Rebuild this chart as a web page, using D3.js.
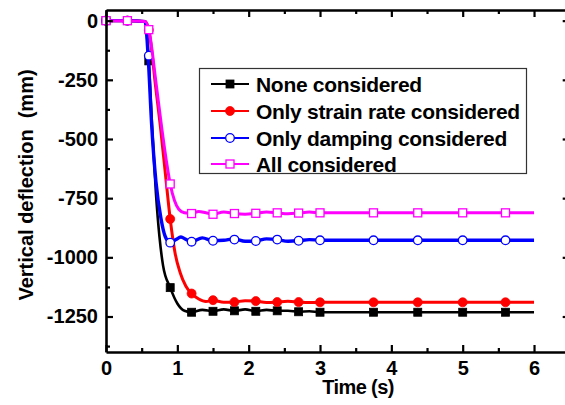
<!DOCTYPE html>
<html>
<head>
<meta charset="utf-8">
<script src="https://cdn.jsdelivr.net/npm/d3@7"></script>
<style>
  html, body { margin: 0; padding: 0; background: #fff; }
  svg { display: block; }
  text { font-family: "Liberation Sans", Arial, sans-serif; font-weight: bold; fill: #000; }
</style>
</head>
<body>
<script>
// ---------- data ----------
const seriesNames = ["None considered", "Only strain rate considered", "Only damping considered", "All considered"];
const seriesColors = ["#000000", "#ff0000", "#0000ff", "#ff00ff"];

const markerTimes = [0, 0.3, 0.6, 0.9, 1.2, 1.5, 1.8, 2.1, 2.4, 2.7, 3.0, 3.75, 4.37, 5.0, 5.6];
const noneMarkers    = [0, 0, -170, -1128, -1232, -1228, -1226, -1228, -1226, -1230, -1232, -1232, -1232, -1232, -1232];
const strainMarkers  = [0, 0, -40, -838, -1153, -1181, -1189, -1185, -1189, -1189, -1190, -1190, -1190, -1190, -1190];
const dampingMarkers = [0, 0, -148, -938, -934, -930, -925, -931, -925, -930, -928, -928, -928, -928, -928];
const allMarkers     = [0, 0, -38, -690, -815, -818, -815, -814, -812, -813, -812, -812, -812, -812, -812];

const noneLine = [[0,0],[0.3,0],[0.54,-4],[0.6,-170],[0.65,-470],[0.7,-730],[0.75,-915],[0.8,-1035],[0.9,-1128],[1.0,-1195],[1.1,-1226],[1.2,-1232],[1.35,-1222],[1.5,-1228],[1.65,-1220],[1.8,-1226],[1.95,-1220],[2.1,-1228],[2.25,-1222],[2.4,-1226],[2.55,-1226],[2.7,-1230],[2.85,-1228],[3.0,-1232],[3.75,-1232],[4.37,-1232],[5.0,-1232],[5.6,-1232],[6.0,-1232]];
const strainLine = [[0,0],[0.3,0],[0.55,-4],[0.6,-40],[0.7,-290],[0.76,-440],[0.83,-640],[0.9,-838],[0.97,-985],[1.04,-1065],[1.12,-1122],[1.2,-1153],[1.3,-1176],[1.4,-1187],[1.5,-1181],[1.65,-1190],[1.8,-1189],[1.95,-1183],[2.1,-1185],[2.25,-1191],[2.4,-1189],[2.55,-1186],[2.7,-1189],[2.85,-1191],[3.0,-1190],[3.75,-1190],[4.37,-1190],[5.0,-1190],[5.6,-1190],[6.0,-1190]];
const dampingLine = [[0,0],[0.3,0],[0.55,-4],[0.59,-148],[0.64,-440],[0.7,-680],[0.77,-835],[0.83,-912],[0.9,-938],[0.98,-925],[1.05,-914],[1.12,-924],[1.2,-934],[1.35,-918],[1.5,-930],[1.65,-928],[1.8,-922],[1.95,-932],[2.1,-931],[2.25,-922],[2.4,-925],[2.55,-932],[2.7,-930],[2.85,-925],[3.0,-928],[3.75,-928],[4.37,-928],[5.0,-928],[5.6,-928],[6.0,-928]];
const allLine = [[0,0],[0.3,0],[0.55,-4],[0.6,-38],[0.7,-260],[0.78,-450],[0.85,-600],[0.9,-690],[0.96,-760],[1.02,-797],[1.1,-812],[1.2,-815],[1.3,-806],[1.4,-812],[1.5,-818],[1.65,-808],[1.8,-815],[1.95,-818],[2.1,-814],[2.25,-808],[2.4,-812],[2.55,-816],[2.7,-813],[2.85,-809],[3.0,-812],[3.75,-812],[4.37,-812],[5.0,-812],[5.6,-812],[6.0,-812]];

const xTicks = [0, 1, 2, 3, 4, 5, 6];
const xMinorTicks = [0.5, 1.5, 2.5, 3.5, 4.5, 5.5, 6.5];
const yTicks = [0, -250, -500, -750, -1000, -1250];
const yMinorTicks = [-125, -375, -625, -875, -1125, -1375];

const xLabel = "Time (s)";
const yLabel = "Vertical deflection  (mm)";

// ---------- chart ----------
const W = 565, H = 405;
const pLeft = 106, pRight = 569.7, pTop = 10, pBottom = 352;

const svg = d3.select("body").append("svg").attr("width", W).attr("height", H);

const x = d3.scaleLinear().domain([0, 6.5]).range([pLeft, pRight]);
const y = d3.scaleLinear().domain([-1400, 45]).range([pBottom, pTop]);

const series = [
  { name: seriesNames[0], color: seriesColors[0], line: noneLine, marks: noneMarkers, shape: "square", fill: true, lw: 2.6 },
  { name: seriesNames[1], color: seriesColors[1], line: strainLine, marks: strainMarkers, shape: "circle", fill: true, lw: 3 },
  { name: seriesNames[2], color: seriesColors[2], line: dampingLine, marks: dampingMarkers, shape: "circle", fill: false, lw: 3.4 },
  { name: seriesNames[3], color: seriesColors[3], line: allLine, marks: allMarkers, shape: "square", fill: false, lw: 3 }
];

const lineGen = d3.line().x(d => x(d[0])).y(d => y(d[1])).curve(d3.curveMonotoneX);

function drawMarker(g, cx, cy, s) {
  if (s.shape === "square") {
    g.append("rect")
      .attr("x", cx - 4).attr("y", cy - 4).attr("width", 8).attr("height", 8)
      .attr("fill", s.fill ? s.color : "#fff")
      .attr("stroke", s.color).attr("stroke-width", s.fill ? 0.8 : 1.3);
  } else {
    g.append("circle")
      .attr("cx", cx).attr("cy", cy).attr("r", s.fill ? 4.5 : 4.3)
      .attr("fill", s.fill ? s.color : "#fff")
      .attr("stroke", s.color).attr("stroke-width", s.fill ? 0.8 : 1.3);
  }
}

const plot = svg.append("g");
series.forEach(s => {
  const g = plot.append("g");
  g.append("path").datum(s.line)
    .attr("d", lineGen)
    .attr("fill", "none")
    .attr("stroke", s.color)
    .attr("stroke-width", s.lw)
    .attr("stroke-linejoin", "round");
  markerTimes.forEach((t, i) => drawMarker(g, x(t), y(s.marks[i]), s));
});

// ---------- axes ----------
function styleAxis(g) {
  g.select(".domain").attr("stroke", "#000").attr("stroke-width", 2.6);
  g.selectAll(".tick line").attr("stroke", "#000").attr("stroke-width", 2.2);
  g.selectAll(".tick text").style("font-size", "20px").style("font-family", "'Liberation Sans', Arial, sans-serif").style("font-weight", "bold").attr("fill", "#000");
}

// bottom
const gB = svg.append("g").attr("transform", `translate(0,${pBottom})`)
  .call(d3.axisBottom(x).tickValues(xTicks).tickFormat(d => String(d)).tickSize(-7).tickSizeOuter(0).tickPadding(9));
styleAxis(gB);
const gBm = svg.append("g").attr("transform", `translate(0,${pBottom})`)
  .call(d3.axisBottom(x).tickValues(xMinorTicks).tickFormat("").tickSize(-4).tickSizeOuter(0));
styleAxis(gBm); gBm.select(".domain").remove();

// top
const gT = svg.append("g").attr("transform", `translate(0,${pTop})`)
  .call(d3.axisTop(x).tickValues(xTicks).tickFormat("").tickSize(-7).tickSizeOuter(0));
styleAxis(gT);
const gTm = svg.append("g").attr("transform", `translate(0,${pTop})`)
  .call(d3.axisTop(x).tickValues(xMinorTicks).tickFormat("").tickSize(-4).tickSizeOuter(0));
styleAxis(gTm); gTm.select(".domain").remove();

// left
const gL = svg.append("g").attr("transform", `translate(${pLeft},0)`)
  .call(d3.axisLeft(y).tickValues(yTicks).tickFormat(d => String(d)).tickSize(-7).tickSizeOuter(0).tickPadding(8));
styleAxis(gL);
const gLm = svg.append("g").attr("transform", `translate(${pLeft},0)`)
  .call(d3.axisLeft(y).tickValues(yMinorTicks).tickFormat("").tickSize(-4).tickSizeOuter(0));
styleAxis(gLm); gLm.select(".domain").remove();

// right
const gR = svg.append("g").attr("transform", `translate(${pRight},0)`)
  .call(d3.axisRight(y).tickValues(yTicks).tickFormat("").tickSize(-7).tickSizeOuter(0));
styleAxis(gR);
const gRm = svg.append("g").attr("transform", `translate(${pRight},0)`)
  .call(d3.axisRight(y).tickValues(yMinorTicks).tickFormat("").tickSize(-4).tickSizeOuter(0));
styleAxis(gRm); gRm.select(".domain").remove();

// axis titles
svg.append("text")
  .attr("x", 358).attr("y", 394)
  .attr("text-anchor", "middle")
  .style("font-size", "20px").style("letter-spacing", "-0.6px")
  .text(xLabel);

svg.append("text")
  .attr("transform", "translate(33,185) rotate(-90)")
  .attr("text-anchor", "middle")
  .style("font-size", "20px").style("white-space", "pre")
  .attr("xml:space", "preserve")
  .text(yLabel);

// ---------- legend ----------
const leg = svg.append("g");
leg.append("rect")
  .attr("x", 199.5).attr("y", 68.5).attr("width", 327).attr("height", 105)
  .attr("fill", "#fff").attr("stroke", "#333").attr("stroke-width", 1.2);
const rowY = [84, 111, 138, 164];
series.forEach((s, i) => {
  const g = leg.append("g");
  g.append("line").attr("x1", 211).attr("x2", 249).attr("y1", rowY[i]).attr("y2", rowY[i])
    .attr("stroke", s.color).attr("stroke-width", 2.2);
  drawMarker(g, 230, rowY[i], s);
  g.append("text").attr("x", 256).attr("y", rowY[i] + 7.5)
    .style("font-size", "21px").style("letter-spacing", "-0.3px")
    .text(s.name);
});
</script>
</body>
</html>
